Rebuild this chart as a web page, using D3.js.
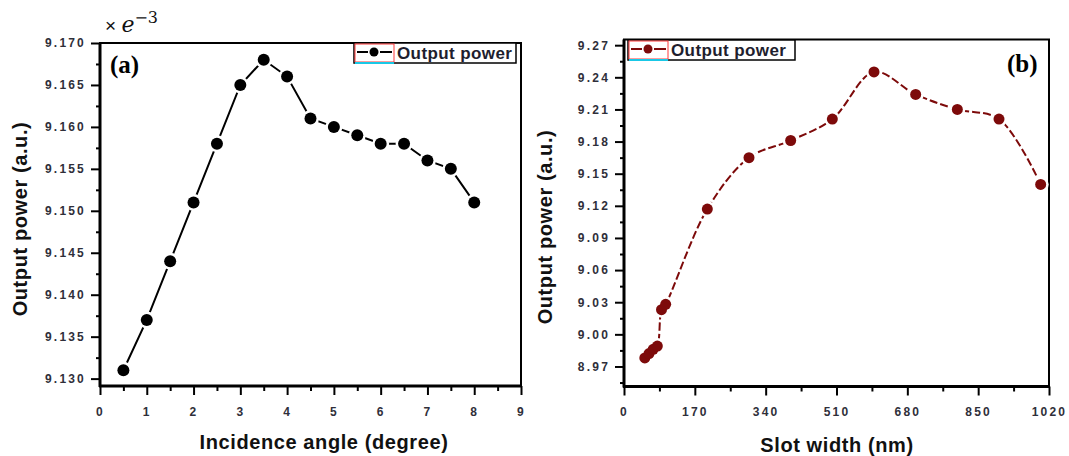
<!DOCTYPE html>
<html>
<head>
<meta charset="utf-8">
<script src="https://cdn.jsdelivr.net/npm/d3@7"></script>
<style>
  body { margin: 0; background: #fff; }
  svg { display: block; }
  text { font-family: "Liberation Sans", Arial, sans-serif; }
</style>
</head>
<body>
<svg id="chart" width="1069" height="456"></svg>
<script>
// panel (a): output power vs incidence angle
var angle = [0.5, 1, 1.5, 2, 2.5, 3, 3.5, 4, 4.5, 5, 5.5, 6, 6.5, 7, 7.5, 8];
var powerA = [9.131, 9.137, 9.144, 9.151, 9.158, 9.165, 9.168, 9.166, 9.161, 9.160, 9.159, 9.158, 9.158, 9.156, 9.155, 9.151];
var ticksAx = [0, 1, 2, 3, 4, 5, 6, 7, 8, 9];
var ticksAy = [9.130, 9.135, 9.140, 9.145, 9.150, 9.155, 9.160, 9.165, 9.170];

// panel (b): output power vs slot width
var slot = [50, 60, 70, 80, 90, 100, 200, 300, 400, 500, 600, 700, 800, 900, 1000];
var powerB = [8.978, 8.982, 8.986, 8.989, 9.023, 9.028, 9.117, 9.165, 9.181, 9.201, 9.245, 9.224, 9.210, 9.201, 9.140];
var ticksBx = [0, 170, 340, 510, 680, 850, 1020];
var ticksBy = [8.97, 9.00, 9.03, 9.06, 9.09, 9.12, 9.15, 9.18, 9.21, 9.24, 9.27];

var svg = d3.select("#chart");

function drawPanel(p) {
   var x = d3.scaleLinear().domain(p.xDomain).range([p.left, p.right]);
   var y = d3.scaleLinear().domain(p.yDomain).range([p.bottom, p.top]);
   var g = svg.append("g");

   // minor ticks
   g.append("g").attr("transform", "translate(0," + p.bottom + ")")
      .call(d3.axisBottom(x).tickValues(p.xMinor).tickSize(5).tickFormat("").tickSizeOuter(0))
      .call(function(a) { a.select(".domain").remove(); a.selectAll("line").attr("stroke-width", 2); });
   g.append("g").attr("transform", "translate(" + p.left + ",0)")
      .call(d3.axisLeft(y).tickValues(p.yMinor).tickSize(4).tickFormat("").tickSizeOuter(0))
      .call(function(a) { a.select(".domain").remove(); a.selectAll("line").attr("stroke-width", 2); });

   // major ticks
   var xa = g.append("g").attr("transform", "translate(0," + p.bottom + ")")
      .call(d3.axisBottom(x).tickValues(p.xTicks).tickSize(9).tickPadding(12).tickSizeOuter(0).tickFormat(d3.format("d")));
   var ya = g.append("g").attr("transform", "translate(" + p.left + ",0)")
      .call(d3.axisLeft(y).tickValues(p.yTicks).tickSize(9).tickPadding(5).tickSizeOuter(0).tickFormat(d3.format(p.yFormat)));
   [xa, ya].forEach(function(a) {
      a.select(".domain").remove();
      a.selectAll("line").attr("stroke", "#000").attr("stroke-width", 2);
      a.selectAll("text").attr("fill", "#2f2f3a").style("font-size", "12px").style("font-weight", "bold")
         .style("letter-spacing", "2.2px").style("font-family", "'Liberation Sans', Arial, sans-serif");
   });

   // frame
   g.append("rect").attr("x", p.left).attr("y", p.top)
      .attr("width", p.right - p.left).attr("height", p.bottom - p.top)
      .attr("fill", "none").attr("stroke", "#000").attr("stroke-width", 2);
   g.append("line").attr("x1", p.left).attr("x2", p.left).attr("y1", p.top).attr("y2", p.bottom + 1)
      .attr("stroke", "#000").attr("stroke-width", 3);
   g.append("line").attr("x1", p.left - 1).attr("x2", p.right + 1).attr("y1", p.bottom).attr("y2", p.bottom)
      .attr("stroke", "#000").attr("stroke-width", 3);

   // data line
   var line = d3.line().x(function(d) { return x(d[0]); }).y(function(d) { return y(d[1]); }).curve(p.curve);
   var pts = p.xs.map(function(v, i) { return [v, p.ys[i]]; });
   g.append("path").datum(pts).attr("d", line).attr("fill", "none")
      .attr("stroke", p.color).attr("stroke-width", 2).attr("stroke-dasharray", p.dash);
   g.selectAll(".halo").data(pts).enter().append("circle")
      .attr("cx", function(d) { return x(d[0]); }).attr("cy", function(d) { return y(d[1]); })
      .attr("r", p.r + 2.5).attr("fill", "#fff");
   g.selectAll(".dot").data(pts).enter().append("circle")
      .attr("cx", function(d) { return x(d[0]); }).attr("cy", function(d) { return y(d[1]); })
      .attr("r", p.r).attr("fill", p.color);

   // legend
   var lg = g.append("g").attr("transform", "translate(" + p.legX + "," + p.legY + ")");
   lg.append("rect").attr("width", p.legW).attr("height", 20).attr("fill", "#fff").attr("stroke", "#000").attr("stroke-width", 1.5);
   lg.append("rect").attr("x", 1).attr("y", 1).attr("width", 39).attr("height", 18).attr("fill", "none").attr("stroke", "#ff3b3b").attr("stroke-width", 1);
   lg.append("line").attr("x1", 1).attr("x2", 40).attr("y1", 20).attr("y2", 20).attr("stroke", "#19c8e6").attr("stroke-width", 2);
   lg.append("line").attr("x1", 3).attr("x2", 14).attr("y1", 9).attr("y2", 9).attr("stroke", p.color).attr("stroke-width", 2);
   lg.append("line").attr("x1", 26).attr("x2", 38).attr("y1", 9).attr("y2", 9).attr("stroke", p.color).attr("stroke-width", 2);
   lg.append("circle").attr("cx", 20).attr("cy", 9).attr("r", 4.5).attr("fill", p.color);
   lg.append("text").attr("x", 43).attr("y", 16).text("Output power")
      .style("font-size", "17px").style("font-weight", "bold").style("letter-spacing", "0.4px").attr("fill", "#1e1e2e");

   // panel letter
   g.append("text").attr("x", p.tagX).attr("y", p.tagY).text(p.tag)
      .style("font-family", "'Liberation Serif', 'Times New Roman', serif").style("font-size", "25px").style("font-weight", "bold");

   // axis titles
   g.append("text").attr("x", p.xtX).attr("y", p.xtY).attr("text-anchor", "middle").attr("dominant-baseline", "central")
      .text(p.xTitle).style("font-size", "20px").style("font-weight", "bold").style("letter-spacing", "0.6px").attr("fill", "#111");
   g.append("text").attr("transform", "translate(" + p.ytX + "," + p.ytY + ") rotate(-90)")
      .attr("text-anchor", "middle").attr("dominant-baseline", "central")
      .text("Output power (a.u.)").style("font-size", "20px").style("font-weight", "bold").style("letter-spacing", "0.6px").attr("fill", "#111");
}

drawPanel({
   xs: angle, ys: powerA,
   left: 100, right: 521, top: 43, bottom: 386,
   xDomain: [0, 9], yDomain: [9.12912, 9.170],
   xTicks: ticksAx, yTicks: ticksAy,
   xMinor: d3.range(0.5, 9, 1), yMinor: d3.range(9.1325, 9.170, 0.005),
   yFormat: ".3f",
   color: "#000", dash: null, r: 6, curve: d3.curveLinear,
   legX: 354, legY: 43, legW: 162,
   tag: "(a)", tagX: 110, tagY: 73,
   xTitle: "Incidence angle (degree)", xtX: 324, xtY: 442,
   ytX: 20, ytY: 219
});

drawPanel({
   xs: slot, ys: powerB,
   left: 624, right: 1049, top: 39.5, bottom: 386.5,
   xDomain: [0, 1020], yDomain: [8.9513, 9.2753],
   xTicks: ticksBx, yTicks: ticksBy,
   xMinor: d3.range(85, 1020, 170), yMinor: d3.range(8.955, 9.275, 0.03),
   yFormat: ".2f",
   color: "#7d0a0a", dash: "8,3", r: 5.5, curve: d3.curveCatmullRom.alpha(0.5),
   legX: 628, legY: 40, legW: 167,
   tag: "(b)", tagX: 1007, tagY: 72,
   xTitle: "Slot width (nm)", xtX: 837, xtY: 445,
   ytX: 545, ytY: 227
});

// exponent note above panel (a)
var ex = svg.append("text").attr("x", 105).attr("y", 32).attr("fill", "#111");
ex.append("tspan").text("\u00d7 ").style("font-size", "19px");
ex.append("tspan").text("e").style("font-family", "'DejaVu Serif', 'Liberation Serif', serif").style("font-style", "italic").style("font-size", "22px");
ex.append("tspan").attr("dy", -9).text("\u22123").style("font-family", "'DejaVu Serif', 'Liberation Serif', serif").style("font-size", "16px");
</script>
</body>
</html>
